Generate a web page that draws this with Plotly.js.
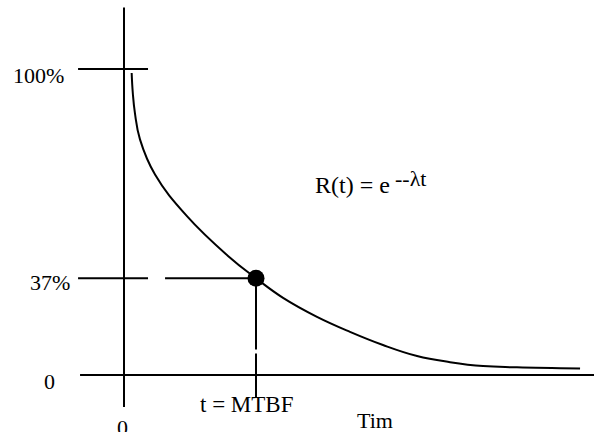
<!DOCTYPE html>
<html>
<head>
<meta charset="utf-8">
<script src="https://cdn.plot.ly/plotly-3.0.1.min.js"></script>
<style>html,body{margin:0;padding:0;background:#fff;}#chart{width:594px;height:432px;}</style>
</head>
<body>
<div id="chart"></div>
<script>
// Reliability curve (time in units of MTBF, reliability in %)
const curveT = [0.058, 0.067, 0.083, 0.121, 0.235, 0.477, 0.788, 1.000, 1.205, 1.462, 1.712,
                1.962, 2.220, 2.470, 2.720, 2.977, 3.455];
const curveR = [98.7, 92.0, 85.5, 77.0, 65.5, 51.9, 38.9, 31.6, 25.2, 19.0, 14.1,
                9.8, 6.2, 4.2, 2.9, 2.5, 2.1];
const mtbfT = [1.0];
const mtbfR = [31.6];
const yTickVals = [0, 31.6, 100];
const yTickLabels = ["0", "37%", "100%"];
const xTickLabels = ["0", "t = MTBF"];
const xLabel = "Tim";
const formulaMain = "R(t) = e";
const formulaExp = "--λt";

const font = "Liberation Serif, Times New Roman, serif";
const ln = {color: "#000", width: 2};

const traces = [
  {x: curveT, y: curveR, mode: "lines", line: {color: "#000", width: 2, shape: "spline", smoothing: 1.2},
   hoverinfo: "skip", showlegend: false},
  {x: mtbfT, y: mtbfR, mode: "markers", marker: {color: "#000", size: 17}, hoverinfo: "skip", showlegend: false}
];

const shapes = [
  {type: "line", x0: 0, x1: 0, y0: -10.5, y1: 120.1, line: ln},
  {type: "line", x0: -0.333, x1: 3.7, y0: yTickVals[0], y1: yTickVals[0], line: ln},
  {type: "line", x0: -0.348, x1: 0.182, y0: yTickVals[2], y1: yTickVals[2], line: ln},
  {type: "line", x0: -0.348, x1: 0.182, y0: yTickVals[1], y1: yTickVals[1], line: ln},
  {type: "line", x0: 0.311, x1: mtbfT[0], y0: yTickVals[1], y1: yTickVals[1], line: ln},
  {type: "line", x0: mtbfT[0], x1: mtbfT[0], y0: mtbfR[0], y1: 8.3, line: ln},
  {type: "line", x0: mtbfT[0], x1: mtbfT[0], y0: 7.0, y1: -7.2, line: ln}
];

const ann = (text, x, y, xa, size) => ({text: text, x: x, y: y, xref: "x", yref: "y", showarrow: false,
  xanchor: xa, yanchor: "middle", font: {family: font, size: size || 22, color: "#000"}});

const annotations = [
  ann(yTickLabels[2], -0.440, 98.0, "right"),
  ann(yTickLabels[1], -0.395, 30.1, "right"),
  ann(yTickLabels[0], -0.568, -2.0, "center"),
  ann(xTickLabels[0], -0.011, -17.3, "center"),
  ann(xTickLabels[1], 0.932, -9.5, "center", 23),
  ann(xLabel, 1.902, -14.8, "center"),
  ann(formulaMain, 1.428, 62.0, "left", 24),
  ann(formulaExp, 2.040, 64.2, "left", 22)
];

const layout = {
  width: 594, height: 432,
  margin: {l: 0, r: 0, t: 0, b: 0},
  font: {family: font, size: 22, color: "#000"},
  paper_bgcolor: "#fff", plot_bgcolor: "#fff",
  xaxis: {range: [-0.9394, 3.5606], visible: false, fixedrange: true},
  yaxis: {range: [-18.63, 122.55], visible: false, fixedrange: true},
  shapes: shapes,
  annotations: annotations,
  showlegend: false
};

Plotly.newPlot("chart", traces, layout, {staticPlot: true, displayModeBar: false});
</script>
</body>
</html>
